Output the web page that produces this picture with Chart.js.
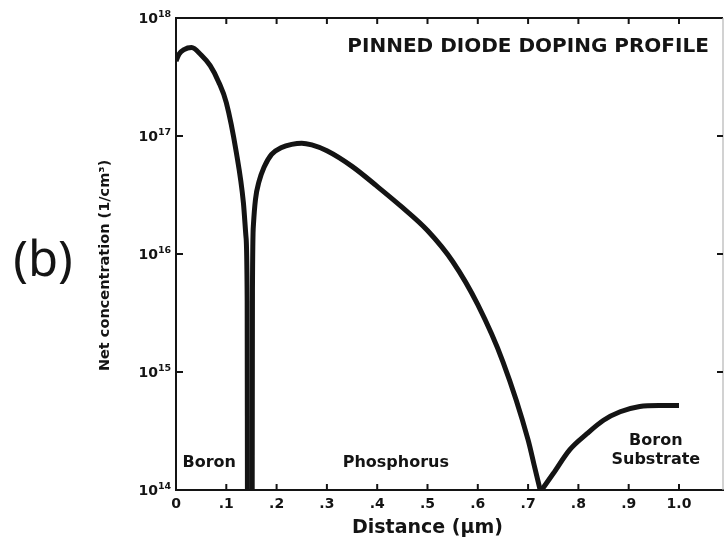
<!DOCTYPE html>
<html>
<head>
<meta charset="utf-8">
<script src="https://cdn.jsdelivr.net/npm/chart.js@4.4.1/dist/chart.umd.min.js"></script>
<style>
  html, body { margin: 0; padding: 0; background: #fff; }
  #wrap { width: 725px; height: 541px; }
</style>
</head>
<body>
<div id="wrap"><canvas id="chart" width="725" height="541"></canvas></div>
<script>
'use strict';

// ---------- data ----------
// depth (µm) and net doping (1/cm3) for each region of the profile
const BORON_X = [0, 0.006, 0.016, 0.031, 0.05, 0.068, 0.085, 0.100, 0.120, 0.134, 0.139, 0.1415, 0.142];
const BORON_N = [4.32e17, 4.94e17, 5.4e17, 5.61e17, 4.85e17, 3.94e17, 2.86e17, 1.92e17, 7.23e16, 2.72e16, 1.42e16, 4e15, 1e14];

const PHOS_X = [0.1515, 0.152, 0.154, 0.158, 0.165, 0.175, 0.19, 0.21, 0.23, 0.25, 0.27, 0.3, 0.35, 0.4, 0.45, 0.5, 0.55, 0.6, 0.65, 0.7, 0.712, 0.724];
const PHOS_N = [1e14, 5e15, 1.78e16, 2.9e16, 4.1e16, 5.43e16, 7.0e16, 8.0e16, 8.5e16, 8.7e16, 8.4e16, 7.5e16, 5.53e16, 3.74e16, 2.48e16, 1.58e16, 8.64e15, 3.72e15, 1.22e15, 2.66e14, 1.63e14, 1e14];

const SUB_X = [0.727, 0.75, 0.783, 0.817, 0.85, 0.883, 0.922, 0.96, 1.0];
const SUB_N = [1e14, 1.38e14, 2.2e14, 3.0e14, 3.9e14, 4.6e14, 5.1e14, 5.2e14, 5.2e14];

const X_TICKS = [0, 0.1, 0.2, 0.3, 0.4, 0.5, 0.6, 0.7, 0.8, 0.9, 1.0];
const X_LABELS = ['0', '.1', '.2', '.3', '.4', '.5', '.6', '.7', '.8', '.9', '1.0'];
const Y_TICKS = [1e14, 1e15, 1e16, 1e17, 1e18];
const Y_EXPONENTS = ['14', '15', '16', '17', '18'];

const TITLE = 'PINNED DIODE DOPING PROFILE';
const X_TITLE = 'Distance (µm)';
const Y_TITLE = 'Net concentration (1/cm³)';
const PANEL = '(b)';

// region names, placed in data coordinates
const NOTES = [
  { text: 'Boron', x: 0.066, y: 1.7e14 },
  { text: 'Phosphorus', x: 0.437, y: 1.7e14 },
  { text: 'Boron', x: 0.954, y: 2.6e14 },
  { text: 'Substrate', x: 0.954, y: 1.8e14 },
];

// ---------- helpers ----------
const INK = '#141414';
const FONT = '"DejaVu Sans", sans-serif';
const pts = (xs, ys) => xs.map((x, i) => ({ x, y: ys[i] }));
const curve = (label, xs, ys) => ({
  label, data: pts(xs, ys), borderColor: INK, borderWidth: 5,
  pointRadius: 0, fill: false, cubicInterpolationMode: 'monotone',
});

const line = (ctx, x1, y1, x2, y2) => {
  ctx.beginPath(); ctx.moveTo(x1, y1); ctx.lineTo(x2, y2); ctx.stroke();
};

// frame, inward tick marks, power-of-ten labels and all free text
const decor = {
  id: 'decor',
  afterDraw(chart) {
    const { ctx, chartArea: a, scales: { x, y } } = chart;
    ctx.save();
    ctx.strokeStyle = INK;
    ctx.lineWidth = 2;
    line(ctx, a.left - 1, a.top, a.right, a.top);
    ctx.strokeStyle = '#b4b4b4';
    ctx.lineWidth = 1.2;
    line(ctx, a.right, a.top, a.right, a.bottom);

    ctx.strokeStyle = INK;
    ctx.lineWidth = 2;
    for (const v of X_TICKS.slice(1)) {
      const px = x.getPixelForValue(v);
      line(ctx, px, a.bottom, px, a.bottom - 6);
      line(ctx, px, a.top, px, a.top + 6);
    }
    for (const v of Y_TICKS.slice(1, -1)) {
      const py = y.getPixelForValue(v);
      line(ctx, a.left, py, a.left + 7, py);
      line(ctx, a.right, py, a.right - 6, py);
    }

    ctx.fillStyle = INK;

    // 10 with a raised exponent
    ctx.textBaseline = 'alphabetic';
    Y_TICKS.forEach((v, i) => {
      const py = y.getPixelForValue(v);
      ctx.textAlign = 'right';
      ctx.font = `bold 14px ${FONT}`;
      ctx.fillText('10', a.left - 18, py + 5);
      ctx.textAlign = 'left';
      ctx.font = `bold 9.5px ${FONT}`;
      ctx.fillText(Y_EXPONENTS[i], a.left - 18, py - 1);
    });

    ctx.textAlign = 'center';
    ctx.textBaseline = 'middle';

    ctx.font = `bold 20px ${FONT}`;
    ctx.fillText(TITLE, x.getPixelForValue(0.70), y.getPixelForValue(5.7e17));

    ctx.font = `bold 16px ${FONT}`;
    for (const n of NOTES) ctx.fillText(n.text, x.getPixelForValue(n.x), y.getPixelForValue(n.y));

    ctx.font = `bold 19px ${FONT}`;
    ctx.fillText(X_TITLE, x.getPixelForValue(0.5), a.bottom + 38);

    ctx.save();
    ctx.translate(a.left - 71, y.getPixelForValue(8e15));
    ctx.rotate(-Math.PI / 2);
    ctx.font = `bold 14.5px ${FONT}`;
    ctx.fillText(Y_TITLE, 0, 0);
    ctx.restore();

    ctx.font = '49px "Noto Sans", sans-serif';
    ctx.fillText(PANEL, 43, 262);
    ctx.restore();
  },
};

// ---------- chart ----------
new Chart(document.getElementById('chart').getContext('2d'), {
  type: 'line',
  data: {
    datasets: [
      curve('Boron', BORON_X, BORON_N),
      curve('Phosphorus', PHOS_X, PHOS_N),
      curve('Boron substrate', SUB_X, SUB_N),
    ],
  },
  options: {
    responsive: false,
    animation: false,
    layout: { padding: { top: 18, right: 2, left: 0, bottom: 0 } },
    plugins: { legend: { display: false }, tooltip: { enabled: false } },
    scales: {
      x: {
        type: 'linear', min: 0, max: 1.0875,
        grid: { display: false, drawTicks: false },
        border: { display: true, color: INK, width: 2 },
        afterBuildTicks: (s) => { s.ticks = X_TICKS.map((value) => ({ value })); },
        afterFit: (s) => { s.height = 51; },
        ticks: {
          color: INK, padding: 6, maxRotation: 0, autoSkip: false,
          font: { family: FONT, size: 14, weight: 'bold' },
          callback: (v, i) => X_LABELS[i],
        },
      },
      y: {
        type: 'logarithmic', min: 1e14, max: 1e18,
        grid: { display: false, drawTicks: false },
        border: { display: true, color: INK, width: 2 },
        afterBuildTicks: (s) => { s.ticks = Y_TICKS.map((value) => ({ value })); },
        afterFit: (s) => { s.width = 176; },
        // labels are drawn by the decor plugin so the exponent can be raised
        ticks: { display: false },
      },
    },
  },
  plugins: [decor],
});
</script>
</body>
</html>
